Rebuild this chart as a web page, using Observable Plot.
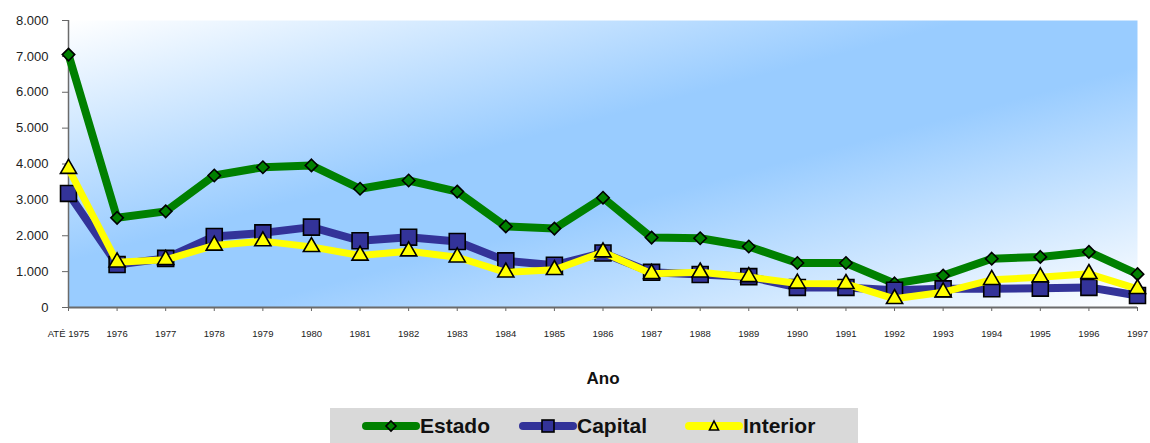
<!DOCTYPE html>
<html>
<head>
<meta charset="utf-8">
<script src="https://cdn.jsdelivr.net/npm/d3@7"></script>
<script src="https://cdn.jsdelivr.net/npm/@observablehq/plot@0.6"></script>
<style>
  html, body { margin: 0; padding: 0; background: #fff; }
  #wrap { position: relative; width: 1150px; height: 443px; overflow: hidden; font-family: "Liberation Sans", Arial, sans-serif; }
  #xlabel { position: absolute; left: 0; width: 1206px; top: 369px; text-align: center; font-weight: bold; font-size: 17px; color: #111; }
  #legend { position: absolute; left: 330px; top: 408px; width: 528px; height: 40px; background: #d9d9d9; }
  .item { position: absolute; top: 0; height: 35px; display: flex; align-items: center; font-weight: bold; font-size: 21px; color: #111; }
  .item svg { margin-right: 0px; }
</style>
</head>
<body>
<div id="wrap">
  <div id="chart"></div>
  <div id="xlabel">Ano</div>
  <div id="legend"></div>
</div>
<script>
const years = ["ATÉ 1975","1976","1977","1978","1979","1980","1981","1982","1983","1984","1985","1986","1987","1988","1989","1990","1991","1992","1993","1994","1995","1996","1997"];
const estado   = [7050,2500,2680,3680,3910,3960,3310,3540,3230,2260,2200,3060,1950,1930,1700,1240,1240,670,890,1360,1410,1550,930];
const capital  = [3180,1200,1370,1980,2080,2240,1860,1960,1840,1300,1180,1520,980,920,860,560,560,480,520,520,540,560,334];
const interior = [3870,1260,1330,1730,1850,1690,1450,1570,1400,980,1050,1540,940,980,850,670,660,242,427,772,845,939,521];
const yTicks = [0,1000,2000,3000,4000,5000,6000,7000,8000];

const seriesNames = ["Estado","Capital","Interior"];
const seriesColors = ["#008000","#333399","#ffff00"];

const rows = (arr, name) => arr.map((v, i) => ({year: years[i], value: v, serie: name}));
const dEstado = rows(estado, "Estado");
const dCapital = rows(capital, "Capital");
const dInterior = rows(interior, "Interior");

const fmt = d => d === 0 ? "0" : d3.format(",")(d).replace(/,/g, ".");

const plot = Plot.plot({
  width: 1150,
  height: 350,
  marginLeft: 68,
  marginRight: 13,
  marginTop: 20,
  marginBottom: 43,
  style: {background: "transparent", fontFamily: "Liberation Sans, Arial, sans-serif"},
  x: {type: "point", domain: years, padding: 0, round: false, label: null},
  y: {domain: [0, 8000], label: null},
  marks: [
    Plot.frame({fill: "url(#bgGrad)", stroke: null}),
    Plot.axisY({ticks: yTicks, tickFormat: fmt, tickSize: 6, tickPadding: 14, fontSize: 13, stroke: "#666", color: "#222"}),
    Plot.axisX({tickSize: 4, tickPadding: 19, fontSize: 9.5, stroke: "#666", color: "#222"}),
    Plot.ruleX([years[0]], {y1: 0, y2: 8000, stroke: "#6b6b6b", strokeWidth: 1.5}),
    Plot.ruleY([0], {stroke: "#6b6b6b", strokeWidth: 2}),
    Plot.line(dEstado, {x: "year", y: "value", stroke: seriesColors[0], strokeWidth: 8, strokeLinejoin: "round"}),
    Plot.dot(dEstado, {x: "year", y: "value", symbol: "diamond2", r: 5.6, fill: seriesColors[0], stroke: "#000", strokeWidth: 1.6}),
    Plot.line(dCapital, {x: "year", y: "value", stroke: seriesColors[1], strokeWidth: 8, strokeLinejoin: "round"}),
    Plot.dot(dCapital, {x: "year", y: "value", symbol: "square", r: 9, fill: seriesColors[1], stroke: "#000", strokeWidth: 1.6}),
    Plot.line(dInterior, {x: "year", y: "value", stroke: seriesColors[2], strokeWidth: 7, strokeLinejoin: "round"}),
    Plot.dot(dInterior, {x: "year", y: "value", symbol: "triangle", r: 6, fill: seriesColors[2], stroke: "#000", strokeWidth: 1.6})
  ]
});

// gradient background definition
const svgSel = d3.select(plot);
const defs = svgSel.insert("defs", ":first-child");
const g = defs.append("linearGradient").attr("id", "bgGrad")
  .attr("x1", "0").attr("y1", "0").attr("x2", "1").attr("y2", "1");
g.append("stop").attr("offset", "0").attr("stop-color", "#ffffff");
g.append("stop").attr("offset", "0.42").attr("stop-color", "#99ccff");
g.append("stop").attr("offset", "0.58").attr("stop-color", "#99ccff");
g.append("stop").attr("offset", "1").attr("stop-color", "#ffffff");

document.getElementById("chart").appendChild(plot);

// legend
const legend = document.getElementById("legend");
const legendX = [32, 189, 355];
const symbols = ["diamond", "square", "triangle"];
seriesNames.forEach((name, i) => {
  const item = document.createElement("div");
  item.className = "item";
  item.style.left = legendX[i] + "px";
  const ns = "http://www.w3.org/2000/svg";
  const s = document.createElementNS(ns, "svg");
  s.setAttribute("width", 58); s.setAttribute("height", 20);
  const ln = document.createElementNS(ns, "line");
  ln.setAttribute("x1", 4); ln.setAttribute("x2", 54); ln.setAttribute("y1", 10); ln.setAttribute("y2", 10);
  ln.setAttribute("stroke", seriesColors[i]); ln.setAttribute("stroke-width", 8); ln.setAttribute("stroke-linecap", "round");
  s.appendChild(ln);
  let m;
  if (symbols[i] === "diamond") {
    m = document.createElementNS(ns, "path"); m.setAttribute("d", "M29,5 L34,10 L29,15 L24,10 Z");
    m.setAttribute("fill", seriesColors[i]);
  } else if (symbols[i] === "square") {
    m = document.createElementNS(ns, "rect"); m.setAttribute("x", 23); m.setAttribute("y", 4); m.setAttribute("width", 12); m.setAttribute("height", 12);
    m.setAttribute("fill", seriesColors[i]);
  } else {
    m = document.createElementNS(ns, "path"); m.setAttribute("d", "M29,5 L33.5,14 L24.5,14 Z");
    m.setAttribute("fill", seriesColors[i]);
  }
  m.setAttribute("stroke", "#000"); m.setAttribute("stroke-width", 1.6);
  s.appendChild(m);
  item.appendChild(s);
  const t = document.createElement("span");
  t.textContent = name;
  item.appendChild(t);
  legend.appendChild(item);
});
</script>
</body>
</html>
